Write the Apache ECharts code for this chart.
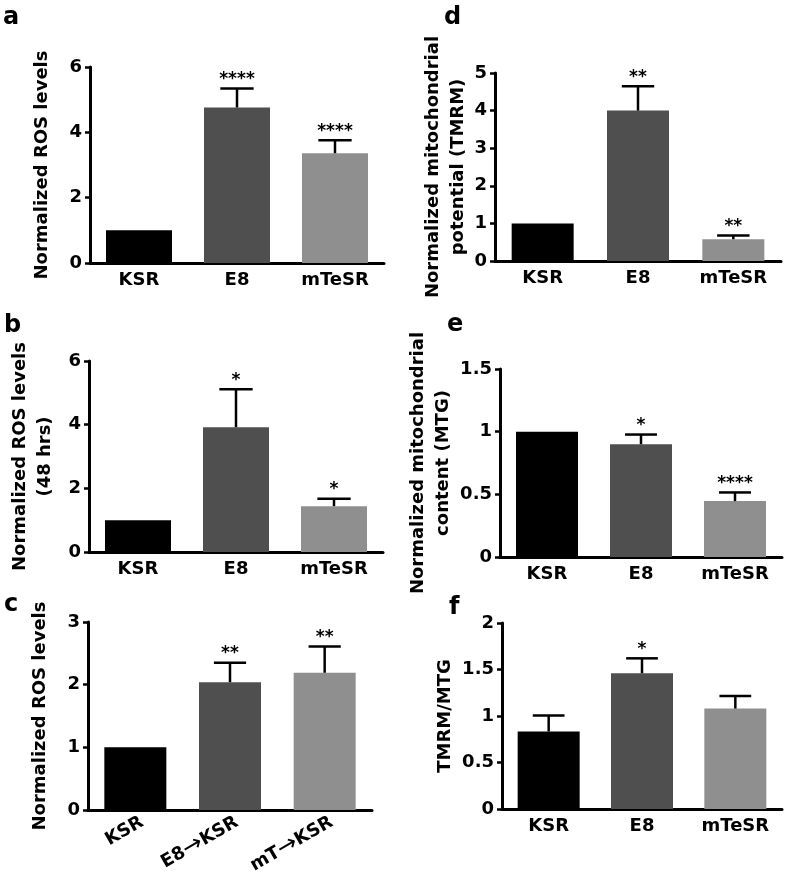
<!DOCTYPE html>
<html>
<head>
<meta charset="utf-8">
<script src="https://cdn.jsdelivr.net/npm/echarts@6/dist/echarts.min.js"></script>
<style>
html,body{margin:0;padding:0;background:#fff;}
#chart{width:787px;height:880px;}
</style>
</head>
<body>
<div id="chart"></div>
<script>
// ---- data ----
const categories = ['KSR', 'E8', 'mTeSR'];
const categoriesC = ['KSR', 'E8\u2192KSR', 'mT\u2192KSR'];

const rosMean = [1, 4.76, 3.36];
const rosErr = [0, 0.58, 0.40];
const rosSig = ['', '****', '****'];

const ros48Mean = [1, 3.92, 1.44];
const ros48Err = [0, 1.19, 0.23];
const ros48Sig = ['', '*', '*'];

const rosSwitchMean = [1, 2.04, 2.19];
const rosSwitchErr = [0, 0.31, 0.42];
const rosSwitchSig = ['', '**', '**'];

const tmrmMean = [1, 4.0, 0.58];
const tmrmErr = [0, 0.65, 0.10];
const tmrmSig = ['', '**', '**'];

const mtgMean = [1, 0.90, 0.446];
const mtgErr = [0, 0.077, 0.069];
const mtgSig = ['', '*', '****'];

const ratioMean = [0.834, 1.46, 1.08];
const ratioErr = [0.172, 0.16, 0.135];
const ratioSig = ['', '*', ''];

const barColors = ['#000000', '#4f4f4f', '#8f8f8f'];

// ---- helpers ----
const FONT = '"DejaVu Sans", "Liberation Sans", Arial, sans-serif';

const panels = [
  {letter: 'a', cats: categories, mean: rosMean, err: rosErr, sig: rosSig, max: 6, interval: 2,
   name: 'Normalized ROS levels', nameGap: 35,
   grid: {left: 90, top: 67, width: 294, height: 196}, barWidth: 66, lx: 3, ly: 17},
  {letter: 'b', cats: categories, mean: ros48Mean, err: ros48Err, sig: ros48Sig, max: 6, interval: 2,
   name: 'Normalized ROS levels\n(48 hrs)', nameGap: 31,
   grid: {left: 89, top: 361, width: 294, height: 191}, barWidth: 66, lx: 4, ly: 325},
  {letter: 'c', cats: categoriesC, mean: rosSwitchMean, err: rosSwitchErr, sig: rosSwitchSig, max: 3, interval: 1,
   name: 'Normalized ROS levels', nameGap: 35, rotate: 30,
   grid: {left: 88, top: 622, width: 284, height: 188}, barWidth: 62, lx: 4, ly: 604},
  {letter: 'd', cats: categories, mean: tmrmMean, err: tmrmErr, sig: tmrmSig, max: 5, interval: 1,
   name: 'Normalized mitochondrial\npotential (TMRM)', nameGap: 19,
   grid: {left: 495, top: 73, width: 286, height: 188}, barWidth: 62, lx: 444, ly: 17},
  {letter: 'e', cats: categories, mean: mtgMean, err: mtgErr, sig: mtgSig, max: 1.5, interval: 0.5,
   name: 'Normalized mitochondrial\ncontent (MTG)', nameGap: 35,
   grid: {left: 500, top: 369, width: 282, height: 188}, barWidth: 62, lx: 447, ly: 324},
  {letter: 'f', cats: categories, mean: ratioMean, err: ratioErr, sig: ratioSig, max: 2, interval: 0.5,
   name: 'TMRM/MTG', nameGap: 37,
   grid: {left: 502, top: 623, width: 280, height: 186}, barWidth: 62, lx: 449, ly: 607}
];

const grids = [], xAxes = [], yAxes = [], series = [], graphics = [];

panels.forEach((p, k) => {
  grids.push(Object.assign({containLabel: false}, p.grid));
  const xl = {
    color: '#000', fontSize: 18, fontWeight: 'bold', fontFamily: FONT,
    margin: 8, interval: 0
  };
  if (p.rotate) {
    Object.assign(xl, {
      rotate: p.rotate, margin: 15, padding: [0, -8, 0, 0], lineHeight: 20,
      formatter: v => v.replace('\u2192', '{arr|\u2192}'),
      rich: {arr: {fontSize: 24, fontWeight: 'normal', fontFamily: FONT, color: '#000', lineHeight: 20}}
    });
  }
  xAxes.push({
    type: 'category', gridIndex: k, data: p.cats,
    axisTick: {show: false},
    axisLine: {show: true, lineStyle: {color: '#000', width: 3}},
    axisLabel: xl
  });
  yAxes.push({
    type: 'value', gridIndex: k, min: 0, max: p.max, interval: p.interval,
    splitLine: {show: false},
    axisLine: {show: true, lineStyle: {color: '#000', width: 3}},
    axisTick: {show: true, length: 5, lineStyle: {color: '#000', width: 2.5}},
    axisLabel: {color: '#000', fontSize: 18, fontWeight: 'bold', fontFamily: FONT, margin: 8},
    name: p.name, nameLocation: 'middle', nameRotate: 90, nameGap: p.nameGap,
    nameTextStyle: {color: '#000', fontSize: 18, fontWeight: 'bold', fontFamily: FONT, lineHeight: 25}
  });
  series.push({
    type: 'bar', xAxisIndex: k, yAxisIndex: k, barWidth: p.barWidth,
    data: p.mean.map((v, i) => ({value: v, itemStyle: {color: barColors[i]}})),
    animation: false
  });
  const sig = p.sig;
  series.push({
    type: 'custom', xAxisIndex: k, yAxisIndex: k, z: 5, animation: false,
    data: p.mean.map((v, i) => [i, v, p.err[i]]),
    renderItem: function (params, api) {
      const x = api.value(0), m = api.value(1), e = api.value(2);
      const base = api.coord([x, m]);
      const top = api.coord([x, m + e]);
      const half = api.size([1, 0])[0] * 0.17;
      const children = [];
      const ls = {stroke: '#000', lineWidth: 2.5};
      if (e > 0) {
        children.push({type: 'line', shape: {x1: base[0], y1: base[1], x2: top[0], y2: top[1]}, style: ls});
        children.push({type: 'line', shape: {x1: top[0] - half, y1: top[1], x2: top[0] + half, y2: top[1]}, style: ls});
      }
      const s = sig[params.dataIndex];
      if (s) {
        children.push({type: 'text', style: {
          x: top[0], y: top[1] - 9, text: s, align: 'center', verticalAlign: 'middle',
          font: 'bold 17px ' + FONT, fill: '#000'
        }});
      }
      return {type: 'group', children: children};
    }
  });
  graphics.push({
    type: 'text', left: p.lx, top: p.ly - 11,
    style: {text: p.letter, font: 'bold 24px ' + FONT, fill: '#000'}
  });
});

const chart = echarts.init(document.getElementById('chart'), null, {renderer: 'canvas'});
chart.setOption({
  animation: false,
  backgroundColor: '#fff',
  grid: grids,
  xAxis: xAxes,
  yAxis: yAxes,
  series: series,
  graphic: graphics
});
</script>
</body>
</html>
